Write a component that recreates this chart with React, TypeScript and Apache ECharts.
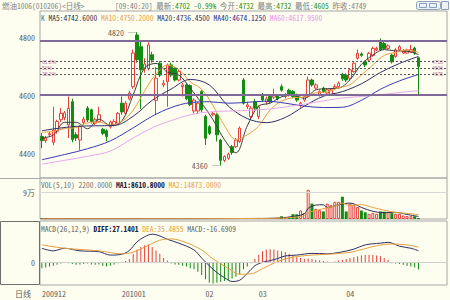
import React, { useEffect, useRef } from 'react';
import * as echarts from 'echarts';

const BG = '#FDFDF0';
const RED = '#E8403C';
const GREEN = '#128C12';
const BORDER = '#A8A8A8';
const LABEL = '#606060';
const PURPLE = '#806898';
const FIBTXT = '#9A4A8A';
const FONT = '"Noto Sans Mono CJK SC", "Liberation Sans", "Noto Sans CJK SC", sans-serif';

const SLOTS = 107;
const monthLabels = ['200912', '201001', '02', '03', '04'];
const monthStarts = [0, 21, 43, 57, 80];

const open = [
  4460, 4446, 4466, 4440, 4478, 4518, 4525, 4500, 4580, 4466,
  4448, 4508, 4558, 4552, 4506, 4512, 4485, 4480, 4494, 4500,
  4506, 4575, 4540, 4590, 4632, 4810, 4770, 4695, 4695, 4742,
  4585, 4713, 4638, 4649, 4707, 4695, 4655, 4632, 4638, 4636,
  4548, 4548, 4615, 4529, 4494, 4535, 4535, 4448, 4378, 4385,
  4425, 4425, 4443, 4655, 4563, 4529, 4580, 4529, 4603, 4580,
  4598, 4596, 4600, 4632, 4598, 4620, 4615, 4603, 4568, 4586,
  4598, 4655, 4627, 4603, 4627, 4610, 4604, 4627, 4632, 4675,
  4672, 4661, 4684, 4730, 4745, 4718, 4724, 4740, 4759, 4787,
  4781, 4764, 4741, 4736, 4759, 4748, 4748, 4752, 4765, 4732,
];
const close = [
  4446, 4455, 4470, 4482, 4512, 4540, 4542, 4557, 4450, 4455,
  4494, 4520, 4517, 4512, 4518, 4535, 4471, 4460, 4510, 4512,
  4540, 4545, 4575, 4610, 4748, 4725, 4690, 4710, 4776, 4724,
  4661, 4672, 4644, 4707, 4672, 4655, 4684, 4638, 4590, 4570,
  4586, 4575, 4552, 4454, 4471, 4540, 4466, 4378, 4391, 4399,
  4405, 4448, 4489, 4575, 4569, 4558, 4558, 4563, 4586, 4590,
  4580, 4605, 4590, 4620, 4603, 4603, 4598, 4586, 4575, 4598,
  4655, 4638, 4638, 4615, 4615, 4621, 4621, 4632, 4644, 4659,
  4655, 4690, 4713, 4747, 4740, 4707, 4747, 4764, 4764, 4759,
  4764, 4773, 4718, 4759, 4770, 4756, 4758, 4760, 4749, 4702,
];
const low = [
  4420, 4438, 4458, 4430, 4470, 4510, 4516, 4455, 4440, 4445,
  4414, 4500, 4510, 4505, 4500, 4508, 4465, 4443, 4488, 4495,
  4500, 4535, 4535, 4585, 4625, 4715, 4555, 4680, 4688, 4715,
  4535, 4665, 4630, 4563, 4665, 4650, 4650, 4598, 4585, 4565,
  4540, 4540, 4545, 4431, 4465, 4530, 4443, 4360, 4372, 4380,
  4397, 4420, 4438, 4570, 4555, 4522, 4550, 4520, 4580, 4570,
  4575, 4590, 4585, 4615, 4592, 4598, 4592, 4580, 4560, 4580,
  4595, 4632, 4622, 4598, 4610, 4605, 4600, 4622, 4628, 4652,
  4648, 4655, 4680, 4725, 4735, 4700, 4720, 4735, 4755, 4755,
  4760, 4760, 4712, 4732, 4755, 4745, 4745, 4750, 4742, 4605,
];
const high = [
  4472, 4462, 4478, 4563, 4518, 4558, 4548, 4598, 4590, 4475,
  4500, 4528, 4565, 4556, 4525, 4563, 4490, 4485, 4515, 4520,
  4545, 4598, 4582, 4618, 4760, 4820, 4790, 4730, 4785, 4752,
  4700, 4720, 4655, 4712, 4715, 4700, 4690, 4645, 4642, 4640,
  4592, 4580, 4620, 4535, 4500, 4545, 4540, 4452, 4395, 4405,
  4431, 4455, 4495, 4662, 4580, 4565, 4590, 4568, 4610, 4598,
  4603, 4625, 4605, 4640, 4610, 4625, 4620, 4608, 4580, 4603,
  4667, 4660, 4644, 4620, 4632, 4627, 4627, 4640, 4650, 4680,
  4678, 4695, 4720, 4760, 4750, 4722, 4752, 4770, 4770, 4798,
  4786, 4778, 4745, 4765, 4776, 4762, 4763, 4776, 4770, 4732,
];

const ma5 = [[0, 4455], [3, 4465], [6, 4509], [9, 4509], [12, 4487], [15, 4520], [18, 4499], [21, 4513], [24, 4604], [27, 4697], [30, 4712], [33, 4682], [36, 4672], [39, 4627], [42, 4575], [45, 4518], [48, 4449], [51, 4404], [54, 4497], [57, 4565], [60, 4575], [63, 4597], [66, 4603], [69, 4592], [72, 4621], [75, 4625], [78, 4627], [81, 4656], [84, 4709], [87, 4741], [90, 4760], [93, 4755], [96, 4754], [99, 4742.6]];
const ma10 = [[0, 4475], [3, 4478], [6, 4488], [9, 4491], [12, 4507], [15, 4510], [18, 4499], [21, 4512], [24, 4551], [27, 4617], [30, 4676], [33, 4706], [36, 4691], [39, 4649], [42, 4623], [45, 4566], [48, 4498], [51, 4450], [54, 4466], [57, 4496], [60, 4552], [63, 4582], [66, 4594], [69, 4596], [72, 4611], [75, 4614], [78, 4628], [81, 4639], [84, 4672], [87, 4707], [90, 4740], [93, 4750], [96, 4759], [99, 4750.2]];
const ma20 = [[0, 4480], [4, 4488], [9, 4495], [14, 4497], [19, 4498], [24, 4530], [29, 4585], [34, 4624], [39, 4657], [44, 4638], [49, 4565], [54, 4522], [59, 4508], [64, 4526], [69, 4565], [74, 4599], [79, 4615], [84, 4642], [89, 4681], [94, 4712], [99, 4736.45]];
const ma40 = [[0, 4380], [6, 4398], [12, 4418], [18, 4445], [24, 4490], [29, 4530], [34, 4560], [39, 4577], [44, 4580], [49, 4575], [54, 4578], [59, 4582], [64, 4575], [69, 4565], [74, 4560], [79, 4561], [84, 4585], [89, 4623], [94, 4652], [99, 4674.125]];
const ma60 = [[0, 4365], [6, 4378], [12, 4392], [18, 4410], [24, 4455], [29, 4490], [34, 4515], [39, 4535], [44, 4545], [49, 4548], [54, 4550], [59, 4554], [64, 4562], [69, 4572], [74, 4583], [79, 4593], [84, 4598], [89, 4604], [94, 4612], [99, 4617.95]];

const volume = [
  600, 500, 450, 700, 650, 800, 600, 900, 850, 500,
  700, 600, 650, 750, 500, 600, 800, 700, 550, 600,
  650, 900, 700, 800, 1400, 1600, 1300, 900, 1200, 1000,
  1100, 900, 800, 1000, 900, 850, 950, 1000, 1100, 1200,
  1000, 900, 1300, 1800, 1500, 1200, 1500, 2000, 1400, 1300,
  1200, 1400, 1600, 2600, 1800, 2000, 1700, 2200, 2500, 2000,
  2000, 3500, 3500, 9400, 7000, 7000, 16400, 16000, 29000, 21000,
  99600, 52700, 35000, 30000, 25800, 52700, 47000, 58600, 58600, 76000,
  25800, 52700, 49000, 41000, 29000, 23000, 17600, 21000, 17600, 25800,
  25000, 25000, 20000, 18000, 17680, 12000, 10000, 9500, 9350, 2200,
];
const volMa1 = [[0, 650], [10, 640], [20, 650], [30, 1000], [40, 1050], [50, 1550], [57, 1950], [60, 2300], [63, 4080], [66, 8660], [69, 17880], [70, 36400], [71, 43660], [72, 47460], [74, 48620], [75, 39240], [78, 48540], [81, 54340], [84, 39500], [87, 26320], [90, 21400], [93, 22760], [96, 15540], [99, 8610.8]];
const volMa2 = [[0, 650], [10, 650], [20, 650], [30, 950], [40, 1000], [50, 1500], [57, 1800], [60, 2100], [63, 3060], [66, 5550], [69, 11480], [70, 21240], [72, 29310], [75, 37820], [78, 48100], [79, 53600], [81, 46220], [84, 49040], [87, 39370], [90, 30170], [93, 22200], [96, 19210], [99, 14873]];

const macdBar = [
  -14, -12, -10, -8, -6, -3, 1, -2, -4, -6,
  -5, -4, -3, -5, -6, -5, -8, -10, -8, -5,
  -2, 1, 3, 8, 20, 30, 36, 40, 42, 36,
  28, 20, 10, 4, -3, -5, -6, -8, -10, -14,
  -16, -22, -30, -40, -48, -50, -48, -46, -44, -42,
  -38, -34, -28, -16, -10, -2, 8, 18, 26, 30,
  31, 30, 28, 26, 24, 20, 16, 12, 10, 8,
  9, 8, 6, 5, 3, 2, 1, 2, 4, 6,
  8, 10, 12, 14, 16, 17, 18, 17, 16, 14,
  10, 6, -2, -3, -4, -6, -8, -10, -12, -16.6909,
];
const diff = [[0, 33], [3, 27], [6, 33], [10, 27], [15, 25], [18, 17], [21, 19], [23, 28], [25, 48], [27, 60], [29, 66], [31, 62], [33, 54], [36, 45], [40, 29], [42, 10], [44, -8], [46, -24], [48, -36], [50, -45], [52, -42], [54, -26], [56, -8], [58, 0], [60, 4], [62, 9], [64, 15], [67, 17], [71, 21], [75, 20], [78, 23], [82, 31], [85, 41], [89, 45], [91, 47], [94, 38], [97, 33], [99, 27.1401]];
const dea = [[0, 41], [6, 33], [15, 27], [21, 20], [24, 24], [28, 40], [31, 52], [34, 55], [38, 46], [42, 29], [45, 8], [49, -14], [52, -28], [55, -27], [58, -15], [62, 2], [66, 12], [71, 17], [77, 20], [82, 25], [87, 37], [92, 43], [96, 41], [99, 35.4855]];

const fibTop = 4790;
const fibBottom = 4603;
const fibRatios = [0.618, 0.5, 0.382];
const fibNames = ['61.8%', '50%', '38.2%'];
const fibValues = ['4718', '4696', '4675'];

export default function App() {
  const ref = useRef<HTMLDivElement>(null);
  useEffect(() => {
    document.body.style.margin = '0';
    const chart = echarts.init(ref.current!, null, { renderer: 'svg' });
    const cats = Array.from({ length: SLOTS }, (_, i) => String(i));
    const candles = open.map((o, i) => [o, close[i], low[i], high[i]]);
    const isUp = (i: number) => close[i] >= open[i];
    const hiIdx = high.indexOf(Math.max(...high));
    const loIdx = low.indexOf(Math.min(...low));
    const fibLevels = fibRatios.map((r) => fibBottom + r * (fibTop - fibBottom));
    const txt = { fontSize: 8, fontFamily: FONT };
    const head = { fontSize: 7.5, fontFamily: FONT };
    const small = { fontSize: 5, fontFamily: '"Liberation Sans", sans-serif', lineHeight: 5 };

    const xa = (gi: number, show: boolean) => ({
      type: 'category', gridIndex: gi, data: cats, boundaryGap: true,
      axisLine: { show: false }, axisTick: { show: false }, splitLine: { show: false },
      axisLabel: show ? {
        show: true, interval: (idx: number) => monthStarts.includes(idx),
        formatter: (_v: string, idx: number) => monthLabels[monthStarts.indexOf(idx)] ?? '',
        align: 'left', margin: 4, color: LABEL, ...txt,
      } : { show: false },
    });
    const ya = (gi: number, min: number, max: number, vals: number[], fmt: (v: number) => string) => ({
      type: 'value', gridIndex: gi, min, max,
      axisLine: { show: false }, axisTick: { show: false }, splitLine: { show: false },
      axisLabel: { customValues: vals, color: LABEL, margin: 5, formatter: fmt, ...txt },
    });
    const line = (xi: number, data: number[][], color: string, width = 1) => ({
      type: 'line', xAxisIndex: xi, yAxisIndex: xi, data, symbol: 'none', smooth: 0.35,
      lineStyle: { color, width }, z: 4, silent: true,
    });
    const gridBase = { left: 40, right: 3, show: true, borderColor: BORDER, borderWidth: 1 };

    const option: any = {
      animation: false,
      backgroundColor: BG,
      grid: [
        { ...gridBase, top: 11, height: 167 },
        { ...gridBase, top: 178, height: 41 },
        { ...gridBase, top: 221, height: 64 },
      ],
      xAxis: [xa(0, false), xa(1, false), xa(2, true)],
      yAxis: [
        ya(0, 4317, 4893, [4400, 4600, 4800], (v) => String(v)),
        ya(1, 0, 140000, [90000], (v) => v / 10000 + '万'),
        ya(2, -53.3, 97.1, [0], (v) => String(v)),
      ],
      series: [
        {
          type: 'candlestick', xAxisIndex: 0, yAxisIndex: 0, data: candles, barWidth: 3,
          itemStyle: { color: BG, color0: GREEN, borderColor: RED, borderColor0: GREEN, borderWidth: 1 },
          markLine: {
            silent: true, symbol: ['none', 'none'], label: { show: false },
            data: [
              { yAxis: fibTop, lineStyle: { color: PURPLE, width: 2, type: 'solid' } },
              { yAxis: fibBottom, lineStyle: { color: PURPLE, width: 2, type: 'solid' } },
              ...fibLevels.map((v) => ({ yAxis: v, lineStyle: { color: '#555', width: 1, type: [2, 2] } })),
            ],
          },
        },
        line(0, ma5, '#3C3C3C'),
        line(0, ma10, '#E8A040'),
        line(0, ma20, '#303068'),
        line(0, ma40, '#3A3AB0'),
        line(0, ma60, '#E8A8E8'),
        {
          type: 'scatter', xAxisIndex: 0, yAxisIndex: 0, symbolSize: 0, silent: true,
          data: [
            { value: [hiIdx, high[hiIdx]], label: { formatter: high[hiIdx] + ' ─' } },
            { value: [loIdx, low[loIdx]], label: { formatter: low[loIdx] + ' ─' } },
          ],
          label: { show: true, position: 'left', distance: 1, color: '#333', ...txt },
        },
        {
          type: 'scatter', xAxisIndex: 0, yAxisIndex: 0, symbolSize: 0, silent: true,
          data: fibLevels.map((v, k) => ({ value: [0, v], label: { formatter: fibNames[k] } })),
          label: { show: true, position: 'right', distance: 0, color: FIBTXT, ...small },
        },
        {
          type: 'scatter', xAxisIndex: 0, yAxisIndex: 0, symbolSize: 0, silent: true,
          data: fibLevels.map((v, k) => ({ value: [104, v], label: { formatter: fibValues[k] } })),
          label: { show: true, position: 'inside', color: FIBTXT, ...small },
        },
        {
          type: 'bar', xAxisIndex: 1, yAxisIndex: 1, barWidth: 3, barMinHeight: 1,
          data: volume.map((v, i) => ({
            value: v,
            itemStyle: isUp(i) ? { color: BG, borderColor: RED, borderWidth: 1 } : { color: GREEN },
          })),
          markLine: {
            silent: true, symbol: ['none', 'none'], label: { show: false },
            data: [{ yAxis: 90000 }], lineStyle: { color: '#D8D8D8', width: 1, type: 'solid' },
          },
        },
        line(1, volMa1, '#303050'),
        line(1, volMa2, '#E8A040'),
        {
          type: 'bar', xAxisIndex: 2, yAxisIndex: 2, barWidth: 1,
          data: macdBar.map((v) => ({ value: v, itemStyle: { color: v >= 0 ? RED : GREEN } })),
          markLine: {
            silent: true, symbol: ['none', 'none'], label: { show: false },
            data: [{ yAxis: 0 }], lineStyle: { color: '#D0D0D0', width: 1, type: 'solid' },
          },
        },
        line(2, diff, '#303068'),
        line(2, dea, '#E8A040'),
      ],
      graphic: [
        {
          type: 'text', x: 2, y: 5,
          style: { text: '燃油1006(010206)<日线>', fill: '#808080', verticalAlign: 'middle', ...head },
        },
        {
          type: 'text', x: 115, y: 5,
          style: {
            text: '{a|[09:40:20] 最新:}{b|4702 -0.99%}{a| 今开:}{b|4732}{a| 最高:}{b|4732}{a| 最低:}{b|4605}{a| 昨收:4749}',
            verticalAlign: 'middle', ...head,
            rich: {
              a: { fill: '#808080', ...head },
              b: { fill: '#1A8A1A', ...head },
            },
          },
        },
        {
          type: 'text', x: 41, y: 17,
          style: {
            text: '{k|K }{a|MA5:4742.6000 }{b|MA10:4750.2000 }{c|MA20:4736.4500 }{d|MA40:4674.1250 }{e|MA60:4617.9500}',
            verticalAlign: 'middle', ...head,
            rich: {
              k: { fill: '#707070', ...head },
              a: { fill: '#303040', ...head },
              b: { fill: '#E8A040', ...head },
              c: { fill: '#303068', ...head },
              d: { fill: '#2A2A90', ...head },
              e: { fill: '#E890E8', ...head },
            },
          },
        },
        {
          type: 'text', x: 41, y: 184,
          style: {
            text: '{a|VOL(5,10) 2200.0000 }{b|MA1:8610.8000 }{c|MA2:14873.0000}',
            verticalAlign: 'middle', ...head,
            rich: {
              a: { fill: '#707070', ...head },
              b: { fill: '#202040', fontWeight: 'bold', ...head },
              c: { fill: '#E8A040', ...head },
            },
          },
        },
        {
          type: 'text', x: 41, y: 228,
          style: {
            text: '{a|MACD(26,12,9) }{b|DIFF:27.1401 }{c|DEA:35.4855 }{a|MACD:-16.6909}',
            verticalAlign: 'middle', ...head,
            rich: {
              a: { fill: '#606060', ...head },
              b: { fill: '#202040', fontWeight: 'bold', ...head },
              c: { fill: '#E8A040', ...head },
            },
          },
        },
        {
          type: 'text', x: 15, y: 293,
          style: { text: '日线', fill: LABEL, verticalAlign: 'middle', ...txt },
        },
        {
          type: 'rect', shape: { x: 0.5, y: 221.5, width: 39, height: 63 },
          style: { fill: 'none', stroke: '#707070', lineWidth: 1 },
        },
        {
          type: 'line', shape: { x1: 0, y1: 178.5, x2: 40, y2: 178.5 },
          style: { stroke: BORDER, lineWidth: 1 },
        },
        {
          type: 'rect', shape: { x: 416.5, y: 1.5, width: 24, height: 8, r: 2 },
          style: { fill: '#EEF2F8', stroke: '#8AA0C0', lineWidth: 1 },
        },
        {
          type: 'rect', shape: { x: 419.5, y: 3.5, width: 7, height: 4 },
          style: { fill: 'none', stroke: '#8AA0C0', lineWidth: 1 },
        },
        {
          type: 'rect', shape: { x: 429.5, y: 3.5, width: 7, height: 4 },
          style: { fill: 'none', stroke: '#8AA0C0', lineWidth: 1 },
        },
        {
          type: 'rect', shape: { x: 441.5, y: 1.5, width: 7, height: 8 },
          style: { fill: '#EEF2F8', stroke: '#8AA0C0', lineWidth: 1 },
        },
      ],
    };
    chart.setOption(option);
    return () => chart.dispose();
  }, []);
  return <div ref={ref} style={{ width: 450, height: 300 }} />;
}
